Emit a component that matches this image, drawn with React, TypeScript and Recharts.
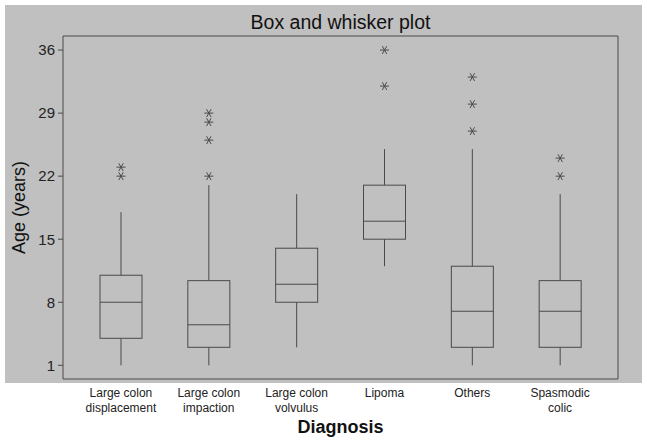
import { ComposedChart, Bar, XAxis, YAxis, Label } from "recharts";

const categories = [
  "Large colon displacement",
  "Large colon impaction",
  "Large colon volvulus",
  "Lipoma",
  "Others",
  "Spasmodic colic",
];
const tickTop = ["Large colon", "Large colon", "Large colon", "Lipoma", "Others", "Spasmodic"];
const tickBottom = ["displacement", "impaction", "volvulus", "", "", "colic"];

const mins = [1, 1, 3, 12, 1, 1];
const q1s = [4, 3, 8, 15, 3, 3];
const medians = [8, 5.5, 10, 17, 7, 7];
const q3s = [11, 10.4, 14, 21, 12, 10.4];
const maxs = [18, 21, 20, 25, 25, 20];
const outliers = [[22, 23], [22, 26, 28, 29], [], [32, 36], [27, 30, 33], [22, 24]];

const yTicks = [1, 8, 15, 22, 29, 36];
const yDomain = [-0.52, 37.56];

const data = categories.map((name, i) => ({
  name,
  range: [mins[i], maxs[i]],
  min: mins[i],
  q1: q1s[i],
  median: medians[i],
  q3: q3s[i],
  max: maxs[i],
  outliers: outliers[i],
}));

const FONT = "'Liberation Sans', Arial, Helvetica, sans-serif";
const INK = "#4a4a4a";

// box drawn inside the range bar [min, max]; other values go through the same linear scale
const BoxShape = (props: any) => {
  const { x, y, width, height, payload } = props;
  const { min, max, q1, q3, median } = payload;
  const pxMin = y + height;
  const perUnit = height / (max - min);
  const py = (v: number) => pxMin - (v - min) * perUnit;
  const cx = x + width / 2;
  const r = 4.5;
  return (
    <g stroke={INK} strokeWidth={1} fill="none">
      <line x1={cx} x2={cx} y1={py(max)} y2={py(q3)} />
      <line x1={cx} x2={cx} y1={py(q1)} y2={py(min)} />
      <rect x={x} y={py(q3)} width={width} height={py(q1) - py(q3)} />
      <line x1={x} x2={x + width} y1={py(median)} y2={py(median)} />
      {payload.outliers.map((v: number, i: number) => {
        const oy = py(v);
        const dx = r * Math.cos(Math.PI / 3);
        const dy = r * Math.sin(Math.PI / 3);
        return (
          <g key={i}>
            <line x1={cx - r} x2={cx + r} y1={oy} y2={oy} />
            <line x1={cx - dx} x2={cx + dx} y1={oy - dy} y2={oy + dy} />
            <line x1={cx - dx} x2={cx + dx} y1={oy + dy} y2={oy - dy} />
          </g>
        );
      })}
    </g>
  );
};

const CategoryTick = (props: any) => {
  const { x, y, payload } = props;
  const i = categories.indexOf(payload.value);
  return (
    <text x={x} y={y} textAnchor="middle" fontSize={12} fill="#222" fontFamily={FONT}>
      <tspan x={x} dy={18}>{tickTop[i]}</tspan>
      <tspan x={x} dy={15}>{tickBottom[i]}</tspan>
    </text>
  );
};

const YLabel = (props: any) => {
  const { viewBox } = props;
  const lx = viewBox.x + 15;
  const ly = viewBox.y + viewBox.height / 2;
  return (
    <text
      x={lx}
      y={ly}
      transform={`rotate(-90, ${lx}, ${ly})`}
      textAnchor="middle"
      dominantBaseline="central"
      fontSize={18}
      fill="#111"
      fontFamily={FONT}
    >
      Age (years)
    </text>
  );
};

const App = () => {
  return (
    <div style={{ position: "absolute", left: 0, top: 0, width: 647, height: 444, background: "#fff", fontFamily: FONT }}>
      <div style={{ position: "absolute", left: 5, top: 5, width: 637, height: 378, background: "#c0c0c0" }} />
      <div
        style={{
          position: "absolute",
          left: 63,
          width: 555,
          top: 12,
          textAlign: "center",
          fontSize: 19.5,
          lineHeight: "20px",
          color: "#111",
        }}
      >
        Box and whisker plot
      </div>
      <div style={{ position: "absolute", left: 0, top: 0 }}>
        <ComposedChart
          width={647}
          height={444}
          data={data}
          margin={{ top: 35, right: 28, bottom: 4, left: 4 }}
          style={{ fontFamily: FONT }}
        >
          <XAxis
            dataKey="name"
            padding={{ left: 14, right: 14 }}
            height={61}
            tickLine={false}
            axisLine={{ stroke: INK }}
            tick={<CategoryTick />}
            tickSize={0}
            tickMargin={0}
            interval={0}
          >
            <Label
              value="Diagnosis"
              position="insideBottom"
              offset={7}
              style={{ fontSize: 18, fontWeight: "bold", fill: "#111", fontFamily: FONT }}
            />
          </XAxis>
          <XAxis
            xAxisId="top"
            dataKey="name"
            orientation="top"
            height={1}
            tick={false}
            tickLine={false}
            axisLine={{ stroke: INK }}
          />
          <YAxis
            type="number"
            domain={yDomain}
            ticks={yTicks}
            interval={0}
            width={59}
            tickSize={5}
            tickMargin={3}
            allowDataOverflow
            axisLine={{ stroke: INK }}
            tickLine={{ stroke: INK }}
            tick={{ fontSize: 15, fill: "#222", fontFamily: FONT }}
            label={<Label content={<YLabel />} />}
          />
          <YAxis
            yAxisId="right"
            orientation="right"
            type="number"
            domain={yDomain}
            width={1}
            tick={false}
            tickLine={false}
            axisLine={{ stroke: INK }}
          />
          <Bar dataKey="range" barSize={42} shape={<BoxShape />} isAnimationActive={false} />
        </ComposedChart>
      </div>
    </div>
  );
};

export default App;
